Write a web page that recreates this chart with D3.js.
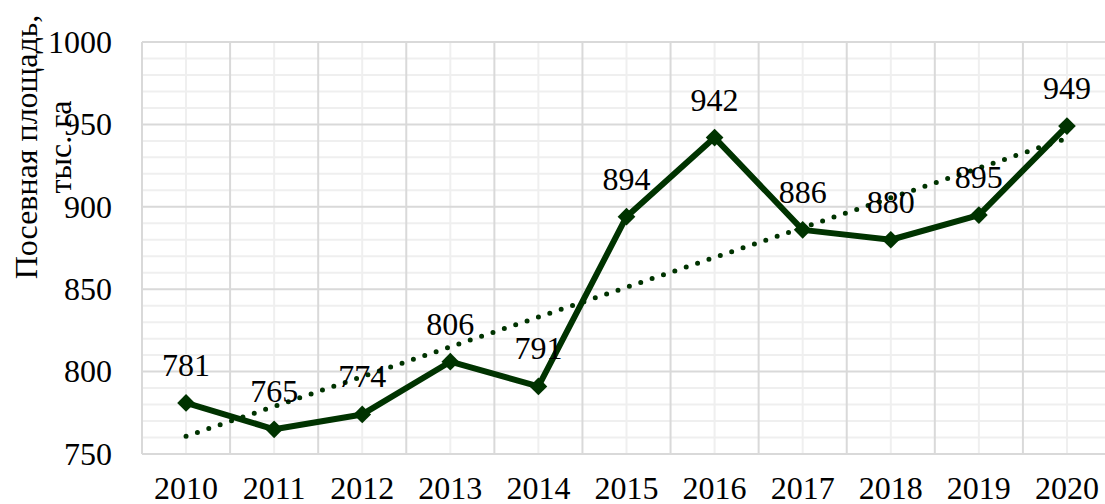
<!DOCTYPE html>
<html>
<head>
<meta charset="utf-8">
<script src="https://cdn.jsdelivr.net/npm/d3@7"></script>
<style>
  body { margin: 0; background: #fff; }
  text { font-family: "Liberation Serif", "Times New Roman", serif; fill: #000; }
</style>
</head>
<body>
<svg width="1105" height="504"></svg>
<script>
let years = ["2010", "2011", "2012", "2013", "2014", "2015", "2016", "2017", "2018", "2019", "2020"];
let area = [781, 765, 774, 806, 791, 894, 942, 886, 880, 895, 949];
let yTicks = [750, 800, 850, 900, 950, 1000];
let titleLines = ["Посевная площадь,", "тыс. га"];

let color = "#003300";
let fontSize = 32;
let svg = d3.select("svg");

let x = d3.scaleBand().domain(years).range([142, 1111]);
let y = d3.scaleLinear().domain([750, 1000]).range([454, 42]);
let cx = d => x(d) + x.bandwidth() / 2;

let grid = svg.append("g");
// minor horizontal lines every 10
grid.selectAll("line.hmin")
  .data(d3.range(750, 1001, 10).filter(v => v % 50 !== 0))
  .enter().append("line")
  .attr("x1", 142).attr("x2", 1111)
  .attr("y1", d => y(d)).attr("y2", d => y(d))
  .attr("stroke", "#efefef").attr("stroke-width", 2);
// minor vertical lines at category centers
grid.selectAll("line.vmin")
  .data(years)
  .enter().append("line")
  .attr("x1", d => cx(d)).attr("x2", d => cx(d))
  .attr("y1", y(1000)).attr("y2", y(750))
  .attr("stroke", "#efefef").attr("stroke-width", 2);
// major horizontal
grid.selectAll("line.hmaj")
  .data(yTicks)
  .enter().append("line")
  .attr("x1", 142).attr("x2", 1111)
  .attr("y1", d => y(d)).attr("y2", d => y(d))
  .attr("stroke", "#d9d9d9").attr("stroke-width", 2);
// major vertical at category boundaries
grid.selectAll("line.vmaj")
  .data(years.concat(["end"]))
  .enter().append("line")
  .attr("x1", (d, i) => 142 + i * x.bandwidth()).attr("x2", (d, i) => 142 + i * x.bandwidth())
  .attr("y1", y(1000)).attr("y2", y(750))
  .attr("stroke", "#d9d9d9").attr("stroke-width", 2);

// y axis
let yAxis = svg.append("g")
  .attr("transform", "translate(142,0)")
  .call(d3.axisLeft(y).tickValues(yTicks).tickFormat(d3.format("d")).tickSize(0).tickPadding(30));
yAxis.select(".domain").remove();
yAxis.selectAll("text")
  .attr("font-size", fontSize)
  .attr("font-family", "Liberation Serif")
  .attr("fill", "#000");

// x axis
let xAxis = svg.append("g")
  .attr("transform", "translate(0,454)")
  .call(d3.axisBottom(x).tickSize(0).tickPadding(0));
xAxis.select(".domain").remove();
xAxis.selectAll("text")
  .attr("font-size", fontSize)
  .attr("font-family", "Liberation Serif")
  .attr("fill", "#000")
  .attr("dy", 0)
  .attr("y", 45);

// y title
let title = svg.append("text")
  .attr("transform", "translate(0,147) rotate(-90)")
  .attr("text-anchor", "middle")
  .attr("font-size", fontSize);
title.selectAll("tspan")
  .data(titleLines)
  .enter().append("tspan")
  .attr("x", 0)
  .attr("y", (d, i) => 37 + i * 34)
  .text(d => d);

// series line
let pts = years.map((yr, i) => ({ yr: yr, v: area[i] }));
svg.append("path")
  .datum(pts)
  .attr("d", d3.line().x(d => cx(d.yr)).y(d => y(d.v)))
  .attr("fill", "none")
  .attr("stroke", color)
  .attr("stroke-width", 6)
  .attr("stroke-linejoin", "round");

// markers
svg.selectAll("path.mark")
  .data(pts)
  .enter().append("path")
  .attr("d", d3.symbol().type(d3.symbolDiamond2).size(200))
  .attr("transform", d => `translate(${cx(d.yr)},${y(d.v)})`)
  .attr("fill", color);

// linear trend
let n = area.length;
let mx = d3.mean(area, (d, i) => i + 1);
let my = d3.mean(area);
let slope = d3.sum(area, (d, i) => (i + 1 - mx) * (d - my)) / d3.sum(area, (d, i) => (i + 1 - mx) ** 2);
let icpt = my - slope * mx;
svg.append("line")
  .attr("x1", cx(years[0])).attr("y1", y(icpt + slope))
  .attr("x2", cx(years[n - 1])).attr("y2", y(icpt + slope * n))
  .attr("stroke", color)
  .attr("stroke-width", 5)
  .attr("stroke-linecap", "round")
  .attr("stroke-dasharray", "0 12");

// data labels
svg.selectAll("text.lbl")
  .data(pts)
  .enter().append("text")
  .attr("x", d => cx(d.yr))
  .attr("y", d => y(d.v) - 27)
  .attr("text-anchor", "middle")
  .attr("font-size", fontSize)
  .text(d => d.v);
</script>
</body>
</html>
